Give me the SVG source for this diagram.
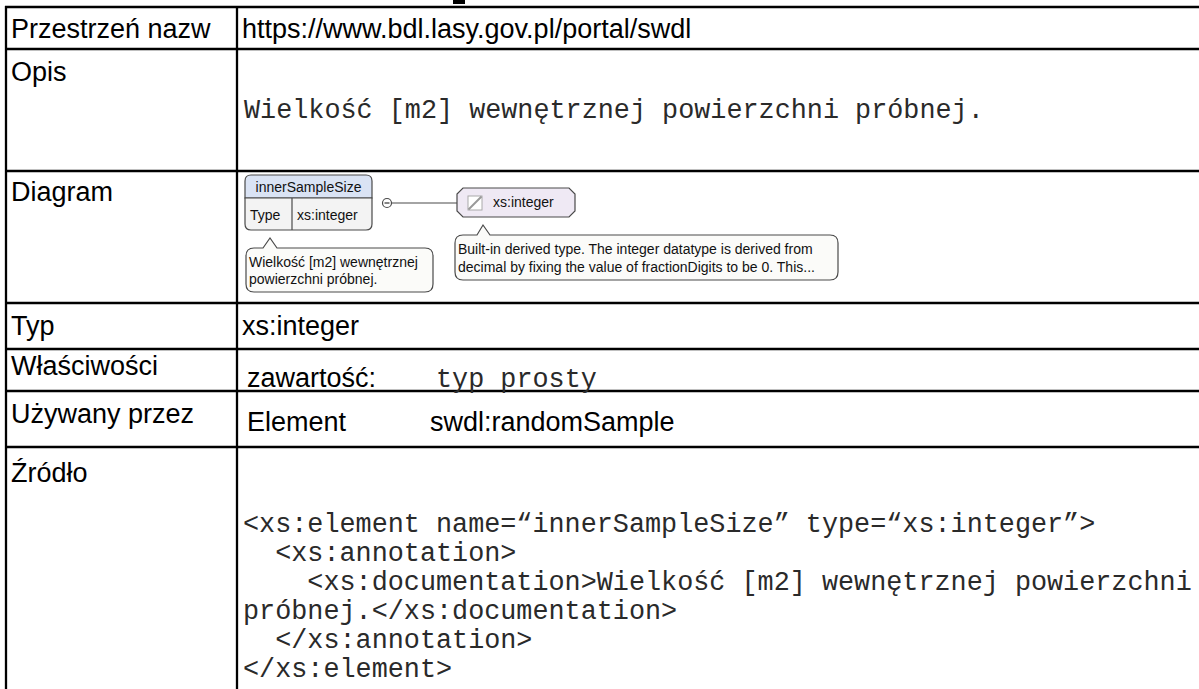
<svg xmlns="http://www.w3.org/2000/svg" width="1199" height="689" viewBox="0 0 1199 689">
<style>
.lbl{font-family:"Liberation Sans",Arial,sans-serif;font-size:27px;fill:#000}
.mono{font-family:"Liberation Mono","Courier New",monospace;font-size:26.8px;fill:#2a2a2a}
.grid{stroke:#000;stroke-width:2.3;fill:none}
.d{font-family:"Liberation Sans",Arial,sans-serif;font-size:14px;fill:#111}
.box{stroke:#4a4a4a;stroke-width:1.2}
</style>
<rect width="1199" height="689" fill="#fff"/>
<rect x="453" y="0" width="12" height="4" fill="#000"/>
<g id="table" class="grid">
<line x1="5" y1="7" x2="1199" y2="7"/>
<line x1="6" y1="6" x2="6" y2="689"/>
<line x1="237" y1="6" x2="237" y2="689"/>
<line x1="5" y1="49" x2="1199" y2="49"/>
<line x1="5" y1="171" x2="1199" y2="171"/>
<line x1="5" y1="303" x2="1199" y2="303"/>
<line x1="5" y1="349" x2="1199" y2="349"/>
<line x1="5" y1="391" x2="1199" y2="391"/>
<line x1="5" y1="447" x2="1199" y2="447"/>
</g>
<g id="labels">
<text class="lbl" x="11" y="38">Przestrzeń nazw</text>
<text class="lbl" x="242" y="38">https://www.bdl.lasy.gov.pl/portal/swdl</text>
<text class="lbl" x="11" y="81">Opis</text>
<text class="mono" x="244" y="118">Wielkość [m2] wewnętrznej powierzchni próbnej.</text>
<text class="lbl" x="11" y="201">Diagram</text>
<text class="lbl" x="11" y="335">Typ</text>
<text class="lbl" x="242" y="335">xs:integer</text>
<text class="lbl" x="11" y="375">Właściwości</text>
<text class="lbl" x="247" y="387">zawartość:</text>
<text class="mono" x="436" y="387">typ prosty</text>
<text class="lbl" x="11" y="423">Używany przez</text>
<text class="lbl" x="247" y="431">Element</text>
<text class="lbl" x="430" y="431">swdl:randomSample</text>
<text class="lbl" x="11" y="482">Źródło</text>
<text class="mono" x="243" y="532" xml:space="preserve">&lt;xs:element name=“innerSampleSize” type=“xs:integer”&gt;</text>
<text class="mono" x="243" y="561" xml:space="preserve">  &lt;xs:annotation&gt;</text>
<text class="mono" x="243" y="590" xml:space="preserve">    &lt;xs:documentation&gt;Wielkość [m2] wewnętrznej powierzchni</text>
<text class="mono" x="243" y="619" xml:space="preserve">próbnej.&lt;/xs:documentation&gt;</text>
<text class="mono" x="243" y="648" xml:space="preserve">  &lt;/xs:annotation&gt;</text>
<text class="mono" x="243" y="677" xml:space="preserve">&lt;/xs:element&gt;</text>
</g>
<g id="connectors">
<line x1="391.5" y1="203" x2="457" y2="203" stroke="#4a4a4a" stroke-width="1.2"/>
</g>
<g id="element-innerSampleSize">
<path class="box" d="M251,175 H366 Q372,175 372,181 V198 H245 V181 Q245,175 251,175 Z" fill="#dae3f4"/>
<path class="box" d="M245,198 H372 V224 Q372,230 366,230 H251 Q245,230 245,224 Z" fill="#f3f3f3"/>
<line x1="292" y1="198" x2="292" y2="230" class="box"/>
<text class="d" x="308.5" y="192" text-anchor="middle">innerSampleSize</text>
<text class="d" x="250" y="220">Type</text>
<text class="d" x="297" y="220">xs:integer</text>
</g>
<g id="collapse">
<circle cx="387" cy="203" r="4.5" fill="#fff" stroke="#4a4a4a" stroke-width="1.2"/>
<line x1="384.5" y1="203" x2="389.5" y2="203" stroke="#333" stroke-width="1.2"/>
</g>
<g id="type-xs-integer">
<path class="box" d="M463,188 H569 L575,194 V211 L569,217 H463 L457,211 V194 Z" fill="#efe9f4"/>
<rect x="468" y="196" width="14" height="14" fill="#fff" stroke="#aaa" stroke-width="1"/>
<line x1="468.5" y1="209.5" x2="481.5" y2="196.5" stroke="#999" stroke-width="2"/>
<text class="d" x="493" y="207">xs:integer</text>
</g>
<g id="doc-element">
<path class="box" d="M254,248 H263 L270,238 L277,248 H425 Q433,248 433,256 V284 Q433,292 425,292 H254 Q246,292 246,284 V256 Q246,248 254,248 Z" fill="#fbfbf9"/>
<text class="d" x="249" y="267">Wielkość [m2] wewnętrznej</text>
<text class="d" x="249" y="284">powierzchni próbnej.</text>
</g>
<g id="doc-type">
<path class="box" d="M463,235 H477 L483,225 L490,235 H830 Q838,235 838,243 V272 Q838,280 830,280 H463 Q455,280 455,272 V243 Q455,235 463,235 Z" fill="#fbfbf9"/>
<text class="d" x="458" y="254">Built-in derived type. The integer datatype is derived from</text>
<text class="d" x="458" y="272">decimal by fixing the value of fractionDigits to be 0. This...</text>
</g>
</svg>
